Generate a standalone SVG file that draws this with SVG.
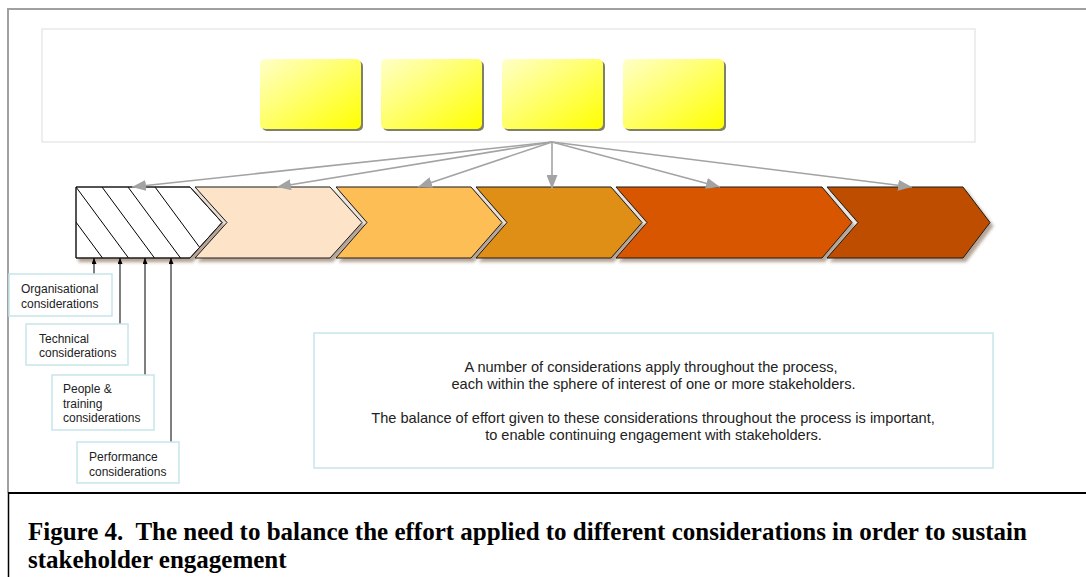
<svg xmlns="http://www.w3.org/2000/svg" width="1086" height="577" viewBox="0 0 1086 577">
<style>
.frame{fill:none;stroke:#a0a0a0;stroke-width:2}
.ybox{fill:url(#yg)}
.yshadow{fill:#808068}
.chev{stroke:#1a1a1a;stroke-width:1;stroke-linejoin:miter}
.conn{stroke:#a3a3a3;stroke-width:1.6;fill:none;marker-end:url(#ga)}
.up{stroke:#000;stroke-width:1;fill:none;marker-end:url(#ba)}
.lbl{fill:#fff;stroke:#c6e6ea;stroke-width:1.5}
.lt{font-family:"Liberation Sans",Arial,sans-serif;font-size:12px;fill:#222}
.dt{font-family:"Liberation Sans",Arial,sans-serif;font-size:14.6px;fill:#222;text-anchor:middle}
.cap{font-family:"Liberation Serif","Times New Roman",serif;font-size:25px;font-weight:bold;fill:#000}
.hatch{stroke:#000;stroke-width:1}
</style>
<defs>
<linearGradient id="yg" x1="0" y1="0" x2="1" y2="1">
<stop offset="0" stop-color="#ffffc8"/>
<stop offset="1" stop-color="#ffff00"/>
</linearGradient>
<filter id="sh" x="-10%" y="-10%" width="130%" height="140%">
<feDropShadow dx="3" dy="3.5" stdDeviation="1.6" flood-color="#5a3414" flood-opacity="0.45"/>
</filter>
<marker id="ga" markerUnits="userSpaceOnUse" markerWidth="15" markerHeight="11" refX="14" refY="5.5" orient="auto">
<path d="M0,0 L14,5.5 L0,11 z" fill="#a3a3a3"/>
</marker>
<marker id="ba" markerUnits="userSpaceOnUse" markerWidth="7" markerHeight="6" refX="6" refY="2.5" orient="auto">
<path d="M0,0 L6,2.5 L0,5 z" fill="#000"/>
</marker>
<clipPath id="c1">
<polygon points="76,187 190,187 222,222.5 190,258 76,258"/>
</clipPath>
</defs>

<rect width="1086" height="577" fill="#fff"/>

<g id="frame">
<path class="frame" d="M1086,9 L8,9 L8,493"/>
<rect x="42" y="29" width="933" height="113" fill="none" stroke="#e3e3e3" stroke-width="1.2"/>
</g>

<g id="stakeholders">
<g id="sh1"><rect class="yshadow" x="262" y="61" width="101" height="70" rx="5"/><rect class="ybox" x="260" y="59" width="101" height="70" rx="5"/></g>
<g id="sh2"><rect class="yshadow" x="383" y="61" width="101" height="70" rx="5"/><rect class="ybox" x="381" y="59" width="101" height="70" rx="5"/></g>
<g id="sh3"><rect class="yshadow" x="504" y="61" width="101" height="70" rx="5"/><rect class="ybox" x="502" y="59" width="101" height="70" rx="5"/></g>
<g id="sh4"><rect class="yshadow" x="625" y="61" width="101" height="70" rx="5"/><rect class="ybox" x="623" y="59" width="101" height="70" rx="5"/></g>
</g>

<g id="stage1" filter="url(#sh)">
<polygon class="chev" fill="#fff" points="76,187 190,187 222,222.5 190,258 76,258"/>
<g clip-path="url(#c1)">
<line class="hatch" x1="50" y1="187" x2="102.5" y2="258"/>
<line class="hatch" x1="76" y1="187" x2="128.5" y2="258"/>
<line class="hatch" x1="102" y1="187" x2="154.5" y2="258"/>
<line class="hatch" x1="128" y1="187" x2="180.5" y2="258"/>
<line class="hatch" x1="155" y1="187" x2="207.5" y2="258"/>
</g>
<polygon fill="none" stroke="#1a1a1a" stroke-width="1" points="76,187 190,187 222,222.5 190,258 76,258"/>
</g>
<g id="stage2" filter="url(#sh)"><polygon class="chev" fill="#fde4c9" points="195,187 330,187 362,222.5 330,258 195,258 227,222.5"/></g>
<g id="stage3" filter="url(#sh)"><polygon class="chev" fill="#fdbe56" points="336,187 471,187 502,222.5 471,258 336,258 367,222.5"/></g>
<g id="stage4" filter="url(#sh)"><polygon class="chev" fill="#e08f14" points="476,187 611,187 642,222.5 611,258 476,258 507,222.5"/></g>
<g id="stage5" filter="url(#sh)"><polygon class="chev" fill="#d95602" points="616,187 822,187 852,222.5 822,258 616,258 647,222.5"/></g>
<g id="stage6" filter="url(#sh)"><polygon class="chev" fill="#bf4e02" points="827,187 963,187 990,222.5 963,258 827,258 858,222.5"/></g>

<g id="connectors">
<line class="conn" x1="552" y1="142" x2="132" y2="187"/>
<line class="conn" x1="552" y1="142" x2="277" y2="187"/>
<line class="conn" x1="552" y1="142" x2="418" y2="187"/>
<line class="conn" x1="552" y1="142" x2="552" y2="189"/>
<line class="conn" x1="552" y1="142" x2="720" y2="187"/>
<line class="conn" x1="552" y1="142" x2="912" y2="187"/>
<line class="up" x1="94" y1="274" x2="94" y2="258"/>
<line class="up" x1="120" y1="324" x2="120" y2="258"/>
<line class="up" x1="145" y1="375" x2="145" y2="258"/>
<line class="up" x1="171" y1="442" x2="171" y2="258"/>
</g>

<g id="organisational">
<rect class="lbl" x="9" y="274" width="103" height="42"/>
<text class="lt" x="21" y="293">Organisational</text>
<text class="lt" x="21" y="307.5">considerations</text>
</g>
<g id="technical">
<rect class="lbl" x="26" y="324" width="102" height="41"/>
<text class="lt" x="39" y="343">Technical</text>
<text class="lt" x="39" y="357">considerations</text>
</g>
<g id="people">
<rect class="lbl" x="52" y="375" width="102" height="55"/>
<text class="lt" x="63" y="393">People &amp;</text>
<text class="lt" x="63" y="407.5">training</text>
<text class="lt" x="63" y="422">considerations</text>
</g>
<g id="performance">
<rect class="lbl" x="77" y="442" width="102" height="41"/>
<text class="lt" x="89" y="461">Performance</text>
<text class="lt" x="89" y="475.5">considerations</text>
</g>

<g id="note">
<rect class="lbl" x="314" y="333" width="679" height="135"/>
<text class="dt" x="651" y="372">A number of considerations apply throughout the process,</text>
<text class="dt" x="653.5" y="389">each within the sphere of interest of one or more stakeholders.</text>
<text class="dt" x="653" y="423">The balance of effort given to these considerations throughout the process is important,</text>
<text class="dt" x="653.5" y="440">to enable continuing engagement with stakeholders.</text>
</g>

<g id="caption">
<path d="M1086,493 L8,493" stroke="#000" stroke-width="2.2" fill="none"/>
<path d="M8.5,493 L8.5,577" stroke="#000" stroke-width="1.5" fill="none"/>
<text class="cap" x="28" y="540" xml:space="preserve">Figure 4.  The need to balance the effort applied to different considerations in order to sustain</text>
<text class="cap" x="28" y="568">stakeholder engagement</text>
</g>
</svg>
